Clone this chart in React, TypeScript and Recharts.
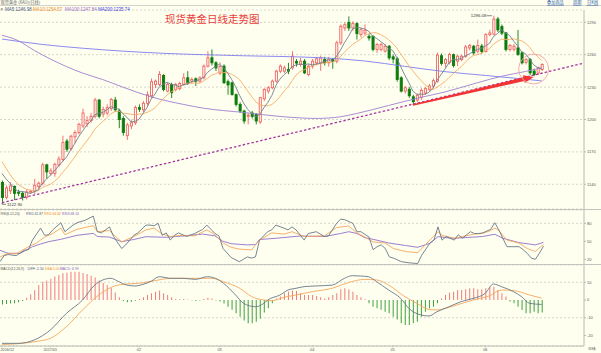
import React from 'react';
import { ComposedChart, Bar, Line, XAxis, YAxis, CartesianGrid, ReferenceLine, ReferenceDot, Cell } from 'recharts';

// ---------- data ----------
const OPEN = [
  1141.7,1128,1134,1138,1132.5,1131.7,1128,1133,1133.5,1138,
  1141,1158,1150,1150,1158,1163,1180,1173,1184,1188,
  1194,1196,1199,1203,1218,1205,1206,1210,1218,1208,
  1201,1185,1194,1197,1211,1209,1215,1222,1232.5,1232.5,
  1240.8,1226.3,1232.5,1227.8,1228.5,1232.5,1238.6,1235.5,1237.7,1235.5,
  1238.6,1249.4,1257.1,1252.5,1243,1249.4,1235,1234,1223,1214,
  1207.8,1203,1206,1204.8,1197.7,1219.2,1226.3,1229.4,1235.5,1244.8,
  1244.8,1246.3,1247.8,1253.8,1250.9,1254,1241.7,1249.4,1252.5,1252.5,
  1255.5,1252.5,1255.5,1254,1271,1284.8,1290,1284.8,1288.8,1278.6,
  1280,1277,1277,1264.8,1264.8,1263.2,1267.8,1258,1256.2,1238.6,
  1226.3,1228,1221,1218,1220.5,1224.6,1228,1231,1235.5,1259,
  1252,1253,1260,1254,1255.5,1258.6,1266.3,1267.8,1263.2,1268,
  1263,1278.6,1279,1293,1286,1280.2,1264.8,1265,1266.3,1261.7,
  1253,1255.5,1244.8,1243,1246.3,
];
const HIGH = [
  1143.5,1139,1142,1139,1135,1133,1135,1135,1145,1142.5,
  1160,1159,1155,1160,1166,1185,1182,1186,1190,1197,
  1210,1203,1206,1220,1219,1212,1214,1220,1221,1210,
  1203,1197,1200,1213,1214,1217,1226,1238,1237,1244.8,
  1242,1234,1234,1234,1235,1243,1244.8,1239,1239,1240,
  1251,1263.2,1264.8,1254,1253,1251,1237,1235,1224,1216,
  1209,1206,1208,1206,1221,1229,1231,1237,1246,1251,
  1250,1252.5,1263.2,1256,1257,1256,1251,1256,1258,1259,
  1258,1258,1257,1273,1288,1290,1295.5,1291,1290,1285,
  1288,1279,1278,1271,1271,1270,1269,1260,1258,1240,
  1231,1230,1223,1224,1229,1230,1233,1238,1262,1261,
  1257,1262,1261,1260,1260,1269,1270,1269,1274,1270,
  1280,1283,1296.08,1295,1288,1281,1270,1270,1283,1263,
  1257,1257,1247,1249,1252,
];
const LOW = [
  1122.9,1126,1131,1125.4,1129,1125,1126,1131,1131,1135,
  1139,1145,1148,1147,1156,1161,1170,1171,1178,1186,
  1192,1193,1197,1201,1201,1202,1204,1208,1207,1192,
  1185,1181,1191,1195,1207,1207,1213,1220,1229,1231,
  1226,1225,1220,1226,1227,1231,1232,1233,1231,1234,
  1237,1248,1250,1245,1241,1233,1223,1222,1212,1206,
  1196,1195.5,1201,1195.5,1196,1217,1224,1228,1234,1243,
  1243,1242,1246,1249,1249,1242,1240,1247,1250,1245,
  1250,1249,1247,1252,1269,1282,1282,1282,1274,1276,
  1278,1273,1263,1261.7,1263,1262,1255,1252,1235,1225,
  1224,1220,1213.4,1216,1218,1223,1226,1229,1234,1250,
  1248,1251,1248,1249.4,1254,1257,1264,1260,1261,1261,
  1262,1277,1278,1281,1278,1263,1263,1263,1259,1251,
  1251,1241,1240,1241,1245,
];
const CLOSE = [
  1127.8,1136.6,1138.5,1131.7,1132,1128,1133,1133.5,1139,1141,
  1158,1151.5,1152.5,1158.5,1163.5,1178.6,1172.5,1184.5,1188,1195.5,
  1206,1199,1203,1218,1203,1209.4,1211,1218.6,1209,1200,
  1188,1195,1197,1211,1209.5,1215,1223,1235,1235.5,1241.7,
  1227.8,1232.5,1224.8,1232.5,1233.4,1238.6,1234,1237.1,1235.5,1238.6,
  1249.4,1257.1,1252.5,1247.8,1249,1234,1232,1223.2,1214,1207.8,
  1198.6,1204,1203,1198.6,1220.2,1227.8,1229.4,1235.5,1244.8,1249.4,
  1247.8,1244.8,1258.6,1252.3,1254,1243.2,1249.4,1254,1256.2,1257,
  1252.5,1256,1254,1271,1286.3,1287.8,1284.8,1288.8,1279.5,1283.2,
  1282.6,1275.5,1264.8,1269.4,1269.4,1267.8,1257.1,1256,1237.1,1226.3,
  1229.4,1222,1216.5,1222.5,1227,1228.6,1231,1236,1259.7,1252,
  1255.5,1260.2,1250,1258.6,1258.6,1267.2,1268.5,1261.7,1268.5,1263,
  1278.6,1280.2,1293,1283,1280,1264.8,1268.5,1267.8,1260.2,1252.5,
  1255.5,1243.2,1241.7,1247.8,1251,
];
const MA5 = [
  1150,1145,1141,1136.5,1133.3,1133.4,1132.6,1131.6,1133.1,1134.9,
  1140.9,1144.6,1148.4,1152.3,1156.8,1160.9,1165.1,1171.5,1177.4,1183.8,
  1189.3,1194.6,1198.3,1204.3,1205.8,1206.5,1208.9,1212,1210.2,1209.6,
  1205.3,1202.1,1197.8,1198.2,1200.1,1205.5,1211.1,1218.7,1223.6,1230,
  1232.6,1234.5,1232.5,1231.9,1230.2,1232.4,1232.7,1235.1,1235.7,1236.8,
  1238.9,1243.5,1246.6,1249.1,1251.2,1248.1,1243.1,1237.2,1230.4,1222.2,
  1215.1,1209.5,1205.5,1202.4,1204.9,1210.7,1215.8,1222.3,1231.5,1237.4,
  1241.4,1244.5,1249.1,1250.6,1251.5,1250.6,1251.5,1250.6,1251.4,1252,
  1253.8,1255.1,1255.1,1258.1,1264,1271,1276.8,1283.7,1285.4,1284.8,
  1283.8,1281.9,1277.1,1275.1,1272.3,1269.4,1265.7,1263.9,1257.5,1248.9,
  1241.2,1234.2,1226.3,1223.3,1223.5,1223.3,1225.1,1229,1236.5,1241.5,
  1246.8,1252.7,1255.5,1255.3,1256.6,1258.9,1260.6,1262.9,1264.9,1265.8,
  1268.1,1270.4,1276.7,1279.6,1283,1280.2,1277.9,1272.8,1268.3,1262.8,
  1260.9,1255.8,1250.6,1248.1,1246.98,
];
const MA10 = [
  1161,1155,1149,1144,1140,1137.5,1135.5,1134.5,1134,1134.1,
  1137.1,1138.6,1140,1142.7,1145.9,1150.9,1154.9,1160,1164.9,1170.3,
  1175.1,1179.9,1184.9,1190.9,1194.8,1197.9,1201.7,1205.2,1207.3,1207.7,
  1205.9,1205.5,1204.9,1204.2,1204.9,1205.4,1206.6,1208.3,1210.9,1215.1,
  1219.1,1222.8,1225.6,1227.7,1230.1,1232.5,1233.6,1233.8,1233.8,1233.5,
  1235.6,1238.1,1240.9,1242.4,1244,1243.5,1243.3,1241.9,1239.8,1236.7,
  1231.6,1226.3,1221.3,1216.4,1213.5,1212.9,1212.7,1213.9,1217,1221.1,
  1226.1,1230.1,1235.7,1241.1,1244.4,1246,1248,1249.8,1251,1251.7,
  1252.2,1253.3,1252.9,1254.7,1258,1262.4,1266,1269.4,1271.8,1274.4,
  1277.4,1279.4,1280.4,1280.3,1278.6,1276.6,1273.8,1270.5,1266.3,1260.6,
  1255.3,1249.9,1245.1,1240.4,1236.2,1232.3,1229.6,1227.6,1229.9,1232.5,
  1235.1,1238.9,1242.3,1245.9,1249,1252.9,1256.6,1259.2,1260.1,1261.2,
  1263.5,1265.5,1269.8,1272.2,1274.4,1274.1,1274.1,1274.7,1273.9,1272.9,
  1270.6,1266.9,1261.7,1258.2,1254.57,
];
const MA100_PTS = [
  [0,1278],[4,1273],[8,1264],[12,1256],[16,1249],[20,1243],[25,1237],[30,1230],[37,1221],
  [45,1214],[50,1210.5],[60,1206.5],[70,1202.5],[78,1201],[84,1202.5],[88,1205.5],[96,1213],
  [104,1220.5],[110,1225.5],[118,1234],[124,1240],[130,1244.5],[134,1247.84],
];
const MA200_PTS = [
  [0,1274.5],[10,1269.5],[20,1266],[30,1263.3],[40,1261.3],[50,1260],[60,1259],[70,1258.3],
  [80,1257],[90,1254.2],[100,1249.2],[110,1244.3],[120,1240.8],[128,1238],[134,1235.74],
];
const RSI1_PTS = [
  [0,16],[1,26],[2,28],[4,26],[6,35],[7,36],[8,52],[10,72],[11,60],[12,61],[13,69],[15,81],[16,66],
  [18,77],[19,81],[21,85],[23,92],[24,66],[25,64],[27,74],[28,58],[30,38],[31,44],[33,60],[34,64],
  [36,77],[37,77],[38,76],[39,80],[40,60],[41,64],[42,52],[43,60],[44,64],[46,58],[48,63],[50,70],
  [51,77],[53,63],[54,59],[55,38],[57,23],[59,16],[60,20],[61,24],[62,22],[63,24],[64,52],[66,66],
  [67,69],[68,77],[70,72],[71,69],[72,74],[73,69],[75,52],[76,63],[78,66],[80,58],[81,59],[83,80],
  [84,87],[85,86],[87,80],[88,66],[89,66],[91,57],[92,36],[93,41],[94,44],[95,38],[96,24],[97,22],
  [99,16],[101,14],[103,13],[104,27],[106,47],[107,52],[108,74],[109,52],[110,58],[112,52],[113,61],
  [114,55],[116,66],[117,63],[118,63],[119,64],[121,70],[122,81],[123,69],[124,55],[125,41],[126,41],
  [128,41],[129,36],[130,30],[131,22],[132,20],[133,30],[134,41.87],
];
const RSI2_PTS = [
  [0,24],[2,30],[4,29],[7,41],[9,47],[10,52],[11,57],[13,63],[15,72],[16,61],[19,70],[23,76],[24,66],
  [27,68],[28,61],[30,49],[33,58],[36,69],[38,72],[40,62],[42,58],[45,60],[48,59],[51,69],[53,61],
  [55,47],[57,40],[59,37],[62,35.6],[64,52],[67,64],[70,62],[72,66],[75,58],[80,59],[83,73],[86,75.5],
  [88,64],[90,57],[92,49],[95,47],[97,38],[100,33],[103,31],[106,52],[108,66],[109,60],[112,55],
  [114,58],[117,62],[119,63],[121,68],[122,72],[123,68],[125,52],[128,47],[130,38],[132,33],[134,44.82],
];
const RSI3_PTS = [
  [0,35],[2,30],[5,30],[8,41],[10,45.5],[12,49.4],[15,53.3],[19,60],[23,63.2],[24,58],[27,57],
  [30,49.4],[33,53],[36,57.7],[41,56.6],[45,58.8],[50,62],[53,59],[55,50],[57,46],[61,44],[63,44.5],
  [64,53],[68,55],[74,58.8],[80,58],[84,63],[86,66],[88,63],[90,56],[92,53.3],[96,47],[100,43],
  [103,40],[106,46.7],[108,57.8],[110,56],[112,55],[119,58],[122,61.7],[124,55],[128,47.8],[132,44],[134,48.14],
];
const HIST = [
  -2.5,-2.2,-2,-1.8,-1.2,-0.5,1.2,3.2,5.5,8.5,
  10.3,11,12,13.2,14.1,15,15.3,15.9,15.9,15.9,
  15.2,14.6,13.6,12.6,11,9.6,8.4,6.8,4.2,1.5,
  -0.6,-1.3,-1,-0.4,0.5,1.5,2.8,3.8,4.7,5.3,
  3.8,2.8,1.5,0.6,0.4,0.5,0.3,-0.2,-0.5,-0.3,
  0.5,1.2,0.9,-0.3,-0.8,-2,-3.8,-5.5,-7.5,-9.5,
  -11.5,-13.1,-13.1,-12.2,-10.5,-7,-4.7,-1.9,0.9,1.9,
  3.8,4.7,5.4,5,3.8,2.8,2.8,2.8,2.3,1.5,
  0.9,1.5,2.8,3.8,6,6.6,6,4.7,2.8,1.5,
  0.4,-1.9,-3.8,-4.7,-5.5,-6.6,-7.5,-9.4,-11,-13.1,
  -14.1,-14.1,-13.1,-12.2,-9.4,-6.6,-4.7,-3.8,-1.9,0.9,
  2.8,4.1,4.7,5.6,5.6,6,6.6,6.6,6,6,
  6.6,7.5,7.5,5.6,3.8,1.9,-0.9,-1.9,-3.8,-5.6,
  -7.5,-7.5,-6.6,-7.5,-6.99,
];
const DIFF_PTS = [
  [0,-24.4],[4,-24.4],[8,-22.5],[12,-16.9],[16,-7.5],[20,0],[23,8.4],[27,12.2],[29,10.3],[31,8.4],
  [33,7.9],[35,8.8],[37,10.5],[39,13.1],[42,12.2],[45,12.2],[48,11.6],[51,13.1],[53,12.2],[55,9.4],
  [58,2.8],[60,-1.9],[63,-3.8],[65,-1.9],[66,0],[69,2.8],[71,5.6],[73,6.6],[75,7.5],[78,7.9],[82,8.4],
  [85,12.2],[87,13.7],[89,13.5],[91,13.1],[93,10.3],[96,5.6],[99,0.9],[101,-4.7],[104,-8.4],[106,-9],
  [108,-6.6],[111,-3.8],[114,-0.9],[117,0.9],[120,3.8],[122,9],[124,7.5],[127,4.7],[129,1.9],[131,-1.9],[134,-2.5],
];
const DEA_PTS = [
  [0,-25],[4,-24.6],[8,-23.5],[12,-21.6],[16,-15],[20,-5.6],[24,2.8],[28,7.9],[31,9],[34,9.4],[37,10.5],
  [42,12.2],[48,12.2],[52,12.2],[55,10.3],[59,6.6],[62,1.9],[65,0],[67,-0.4],[70,1.5],[73,2.8],[77,4.7],
  [82,6.6],[86,9.8],[90,11.6],[93,11.3],[96,8.4],[100,1.9],[103,-1.9],[106,-5.3],[108,-5.6],[112,-3.4],
  [117,0],[121,2.3],[124,5.6],[127,5.3],[131,2.8],[134,1.0],
];
const MONTH_TICKS = [0, 12, 34, 54, 77, 97, 120];
const MONTH_LABELS = ['2016/12', '2017/01', '02', '03', '04', '05', '06'];
const PRICE_TICKS = [1140, 1170, 1200, 1230, 1260, 1290];
const RSI_TICKS = [20, 50, 80];
const MACD_TICKS = [-20, -10, 0, 10];

// ---------- styling / layout ----------
const BG = '#fffff0';
const UP = '#f06464';
const DOWN = '#0c7c0c';
const AXIS = '#b8b8b0';
const GRID = '#d6d6cc';
const SMALL = 'Liberation Sans, Arial, sans-serif';
const CJK = '"Noto Sans CJK SC", sans-serif';
const PAD = 10;
const NC = OPEN.length;
const N = NC + PAD;

function sparse(pts: number[][]) {
  const a: (number | null)[] = new Array(N).fill(null);
  pts.forEach(([k, v]) => { a[k] = v; });
  return a;
}
const ma100 = sparse(MA100_PTS);
const ma200 = sparse(MA200_PTS);
const rsi1 = sparse(RSI1_PTS);
const rsi2 = sparse(RSI2_PTS);
const rsi3 = sparse(RSI3_PTS);
const diff = sparse(DIFF_PTS);
const dea = sparse(DEA_PTS);

const rows = Array.from({ length: N }, (_, i) => {
  const has = i < NC;
  return {
    i,
    o: has ? OPEN[i] : null,
    h: has ? HIGH[i] : null,
    l: has ? LOW[i] : null,
    c: has ? CLOSE[i] : null,
    hl: has ? [LOW[i], HIGH[i]] : null,
    ma5: has ? MA5[i] : null,
    ma10: has ? MA10[i] : null,
    ma100: ma100[i],
    ma200: ma200[i],
    rsi1: rsi1[i],
    rsi2: rsi2[i],
    rsi3: rsi3[i],
    hist: has ? HIST[i] : null,
    diff: diff[i],
    dea: dea[i],
  };
});

const Candle = (props: any) => {
  const { x, y, width, height, payload } = props;
  if (!payload || payload.o == null || typeof y !== 'number') return null;
  const { o, h, l, c } = payload;
  const top = Math.min(y, y + height);
  const hh = Math.abs(height);
  const k = h > l ? hh / (h - l) : 0;
  const yO = top + (h - o) * k;
  const yC = top + (h - c) * k;
  const up = c >= o;
  const col = up ? UP : DOWN;
  const cx = x + width / 2;
  const bTop = Math.min(yO, yC);
  const bH = Math.max(0.8, Math.abs(yO - yC));
  return (
    <g>
      <line x1={cx} x2={cx} y1={top} y2={top + hh} stroke={col} strokeWidth={0.9} />
      <rect x={x + 0.45} y={bTop} width={width - 0.9} height={bH} fill={up ? BG : col} stroke={col} strokeWidth={0.9} />
    </g>
  );
};

const Arrow = (p: any) => {
  const { x1, y1, x2, y2 } = p;
  if ([x1, y1, x2, y2].some((v) => typeof v !== 'number')) return null;
  const ang = Math.atan2(y2 - y1, x2 - x1);
  const L = 10, HW = 4;
  const bx = x2 - L * Math.cos(ang), by = y2 - L * Math.sin(ang);
  const nx = -Math.sin(ang), ny = Math.cos(ang);
  const w0 = 0.7, w1 = 1.9;
  const body = `${x1 + nx * w0},${y1 + ny * w0} ${bx + nx * w1},${by + ny * w1} ${bx - nx * w1},${by - ny * w1} ${x1 - nx * w0},${y1 - ny * w0}`;
  const head = `${x2},${y2} ${bx + nx * HW},${by + ny * HW} ${bx - nx * HW},${by - ny * HW}`;
  return (
    <g>
      <polygon points={body} fill="#f23434" />
      <polygon points={head} fill="#f23434" />
    </g>
  );
};

const HighLabel = (p: any) => {
  const { cx, cy } = p;
  if (typeof cx !== 'number') return null;
  return (
    <g>
      <text x={cx - 7} y={cy + 1.6} textAnchor="end" fontSize={4.3} fill="#333" fontFamily={SMALL}>1296.08</text>
      <line x1={cx - 6.5} x2={cx - 1.5} y1={cy} y2={cy} stroke="#333" strokeWidth={0.6} />
    </g>
  );
};

const LowLabel = (p: any) => {
  const { cx, cy } = p;
  if (typeof cx !== 'number') return null;
  return (
    <g>
      <polyline points={`${cx},${cy} ${cx},${cy + 1.5} ${cx + 4},${cy + 1.5}`} fill="none" stroke="#333" strokeWidth={0.6} />
      <text x={cx + 5} y={cy + 3} fontSize={4.3} fill="#333" fontFamily={SMALL}>1122.90</text>
    </g>
  );
};

// x-axis tick of the bottom (MACD) panel; y is in that chart's own coordinates
const MonthTick = (p: any) => {
  const { x, y, payload } = p;
  const idx = MONTH_TICKS.indexOf(payload.value);
  if (idx < 0) return null;
  const base = 81; // plot bottom inside the MACD chart
  return (
    <g>
      <line x1={x} x2={x} y1={base} y2={base + 1.5} stroke={AXIS} strokeWidth={0.6} />
      <text x={idx === 0 ? 0.5 : x} y={base + 4.8} textAnchor={idx === 0 ? 'start' : 'middle'} fontSize={3.8} fill="#555" fontFamily={SMALL}>
        {MONTH_LABELS[idx]}
      </text>
    </g>
  );
};

const tickStyle = { fontSize: 4, fill: '#555', fontFamily: SMALL };

export default function App() {
  const lineCommon = { dot: false as const, isAnimationActive: false, connectNulls: true, strokeWidth: 0.9 };
  return (
    <div style={{ position: 'absolute', left: 0, top: 0, width: 601, height: 353, background: BG, overflow: 'hidden' }}>
      {/* price panel */}
      <div style={{ position: 'absolute', left: 0, top: 0 }}>
        <ComposedChart width={601} height={209} data={rows} margin={{ top: 10, right: 0, bottom: 0, left: 0 }}>
          <CartesianGrid vertical={false} stroke={GRID} strokeDasharray="2 2" />
          <XAxis dataKey="i" hide />
          <YAxis orientation="right" width={17} type="number" domain={[1117.13, 1301.39]} allowDataOverflow
            ticks={PRICE_TICKS} tick={tickStyle} tickSize={2} tickMargin={1} axisLine={{ stroke: AXIS }} tickLine={{ stroke: AXIS }} />
          <Line type="monotone" dataKey="ma200" stroke="#7d7def" {...lineCommon} />
          <Line type="monotone" dataKey="ma100" stroke="#9f7fcf" {...lineCommon} />
          <Bar dataKey="hl" barSize={3} shape={Candle} isAnimationActive={false} />
          <Line type="linear" dataKey="ma10" stroke="#f6ad66" {...lineCommon} />
          <Line type="linear" dataKey="ma5" stroke="#6f8090" {...lineCommon} />
          <ReferenceLine segment={[{ x: 0, y: 1122.9 }, { x: N - 1, y: 1251.8 }]} stroke="#a4379f" strokeWidth={1.3} strokeDasharray="2.5 2" ifOverflow="visible" />
          <ReferenceLine segment={[{ x: 102, y: 1213.4 }, { x: 132, y: 1239.4 }]} shape={Arrow} ifOverflow="visible" />
          <ReferenceDot x={132} y={1246.8} r={15} fill="none" stroke="#f3a2a2" strokeWidth={0.9} ifOverflow="visible" />
          <ReferenceDot x={122} y={1296.08} r={0} shape={HighLabel} ifOverflow="visible" />
          <ReferenceDot x={0} y={1122.9} r={0} shape={LowLabel} ifOverflow="visible" />
        </ComposedChart>
      </div>

      {/* RSI panel */}
      <div style={{ position: 'absolute', left: 0, top: 210 }}>
        <ComposedChart width={601} height={55} data={rows} margin={{ top: 0, right: 0, bottom: 0, left: 0 }}>
          <CartesianGrid vertical={false} stroke={GRID} strokeDasharray="2 2" />
          <XAxis dataKey="i" hide />
          <YAxis orientation="right" width={17} type="number" domain={[10.5, 102.17]} allowDataOverflow
            ticks={RSI_TICKS} tick={tickStyle} tickSize={2} tickMargin={1} axisLine={{ stroke: AXIS }} tickLine={{ stroke: AXIS }} />
          <Line type="linear" dataKey="rsi3" stroke="#8f6fca" {...lineCommon} />
          <Line type="linear" dataKey="rsi2" stroke="#f5a65a" {...lineCommon} />
          <Line type="linear" dataKey="rsi1" stroke="#687888" {...lineCommon} />
        </ComposedChart>
      </div>

      {/* MACD panel */}
      <div style={{ position: 'absolute', left: 0, top: 265 }}>
        <ComposedChart width={601} height={88} data={rows} margin={{ top: 0, right: 0, bottom: 0, left: 0 }}>
          <CartesianGrid vertical={false} stroke={GRID} strokeDasharray="2 2" />
          <XAxis dataKey="i" height={7} ticks={MONTH_TICKS} interval={0} tick={MonthTick} tickSize={2} tickLine={false} axisLine={{ stroke: AXIS }} />
          <YAxis orientation="right" width={17} type="number" domain={[-25.9, 19.7]} allowDataOverflow
            ticks={MACD_TICKS} tick={tickStyle} tickSize={2} tickMargin={1} axisLine={{ stroke: AXIS }} tickLine={{ stroke: AXIS }} />
          <Bar dataKey="hist" barSize={1} isAnimationActive={false}>
            {rows.map((r, idx) => (
              <Cell key={idx} fill={(r.hist ?? 0) >= 0 ? '#f07a7a' : '#3f9f3f'} />
            ))}
          </Bar>
          <Line type="monotone" dataKey="dea" stroke="#f5a65a" {...lineCommon} />
          <Line type="monotone" dataKey="diff" stroke="#687888" {...lineCommon} />
        </ComposedChart>
      </div>

      {/* headers, legends, separators */}
      <svg width={601} height={353} style={{ position: 'absolute', left: 0, top: 0, pointerEvents: 'none' }}>
        <line x1={0} x2={601} y1={5.5} y2={5.5} stroke="#d4d4cc" strokeWidth={1} />
        <line x1={0} x2={601} y1={209.5} y2={209.5} stroke="#c4c4bc" strokeWidth={1} />
        <line x1={0} x2={601} y1={264.5} y2={264.5} stroke="#c4c4bc" strokeWidth={1} />
        <text x={0.5} y={4.3} fontSize={4.2} fill="#666" fontFamily={CJK}>现货黄金 (XAU)(日线)</text>
        <text x={547} y={4.3} fontSize={4.2} fill="#2a5caa" fontFamily={CJK} textDecoration="underline">叠加商品</text>
        <text x={573} y={4.3} fontSize={4.2} fill="#2a5caa" fontFamily={CJK} textDecoration="underline">周期</text>
        <text x={587} y={4.3} fontSize={4.2} fill="#2a5caa" fontFamily={CJK} textDecoration="underline">日K线</text>
        <text y={11.2} fontSize={4.5} fontFamily={SMALL}>
          <tspan x={0.5} fill="#555">×</tspan>
          <tspan x={5} fill="#4a5a7a">MA5:1246.98</tspan>
          <tspan x={33} fill="#f08a24">MA10:1254.57</tspan>
          <tspan x={65} fill="#9a6bc6">MA100:1247.84</tspan>
          <tspan x={98} fill="#3d3de0">MA200:1235.74</tspan>
        </text>
        <text x={165} y={22.5} fontSize={10.5} fill="#e8403c" fontFamily={CJK}>现货黄金日线走势图</text>
        <text y={215} fontSize={3.4} fontFamily={SMALL}>
          <tspan x={0.5} fill="#555">RSI(6,12,24)</tspan>
          <tspan x={26} fill="#4a5a7a">RSI1:41.87</tspan>
          <tspan x={44} fill="#f08a24">RSI2:44.82</tspan>
          <tspan x={62} fill="#8a5cc0">RSI3:48.14</tspan>
        </text>
        <text y={269.8} fontSize={3.4} fontFamily={SMALL}>
          <tspan x={0.5} fill="#555">MACD(12,26,9)</tspan>
          <tspan x={27.5} fill="#4a5a7a">DIFF:-2.50</tspan>
          <tspan x={45} fill="#f08a24">DEA:1.00</tspan>
          <tspan x={60} fill="#8a5cc0">MACD:-6.99</tspan>
        </text>
        <text x={588} y={350.4} fontSize={3.8} fill="#555" fontFamily={CJK}>日线</text>
      </svg>
    </div>
  );
}
